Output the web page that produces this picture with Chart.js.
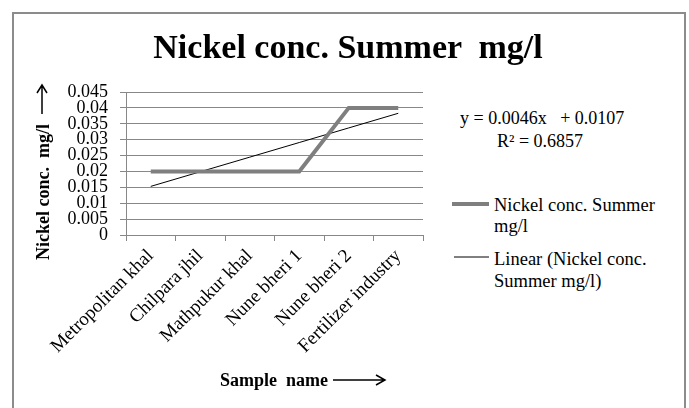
<!DOCTYPE html>
<html>
<head>
<meta charset="utf-8">
<title>Nickel conc. Summer mg/l</title>
<script src="https://cdn.jsdelivr.net/npm/chart.js@4.4.1/dist/chart.umd.min.js"></script>
<style>
    body { margin: 0; background: #fff; font-family: "Liberation Serif", "Times New Roman", serif; color: #000; }
    #frame { position: absolute; left: 12px; top: 12px; width: 670px; height: 400px; border: 2px solid #8c8c8c; border-bottom: none; }
    #wrap { position: absolute; left: 0; top: 0; width: 440px; height: 408px; }
    .txt { position: absolute; white-space: pre; line-height: 1; }
    #arrows { position: absolute; left: 0; top: 0; }
</style>
</head>
<body>
<div id="frame"></div>
<div id="wrap"><canvas id="nickelChart"></canvas></div>

<div class="txt" id="chart-title" style="left:348px; top:30px; transform:translateX(-50%); font-size:34px; font-weight:bold;">Nickel conc. Summer  mg/l</div>
<div class="txt" id="y-title" style="left:43px; top:192px; transform:translate(-50%,-50%) rotate(-90deg); font-size:18px; font-weight:bold;">Nickel conc.  mg/l</div>
<div class="txt" id="x-title" style="left:220px; top:371px; font-size:18px; font-weight:bold;">Sample  name</div>

<div class="txt" style="left:460px; top:109px; font-size:18px;">y = 0.0046x   + 0.0107</div>
<div class="txt" style="left:497px; top:132px; font-size:18px;">R² = 0.6857</div>

<div class="txt" style="left:494px; top:195px; font-size:18.5px; line-height:21px;">Nickel conc. Summer
mg/l</div>
<div class="txt" style="left:494px; top:248px; font-size:18.5px; line-height:22px;">Linear (Nickel conc.
Summer mg/l)</div>

<svg id="arrows" width="689" height="408">
    <g stroke="#000" stroke-width="1.5" fill="none">
        <path d="M42 114 L42 85 M37 93 L42 85 L47 93"/>
        <path d="M333 380 L385 380 M376 375 L385 380 L376 385"/>
    </g>
    <line x1="452" y1="204" x2="489" y2="204" stroke="#7f7f7f" stroke-width="4"/>
    <line x1="454" y1="257" x2="489" y2="257" stroke="#000" stroke-width="1"/>
</svg>

<script>
const sampleNames = ['Metropolitan khal', 'Chilpara jhil', 'Mathpukur khal', 'Nune bheri 1', 'Nune bheri 2', 'Fertilizer industry'];
const nickelSummer = [0.02, 0.02, 0.02, 0.02, 0.04, 0.04];
// linear trendline values as drawn (y = 0.0046x + 0.0107)
const nickelTrend = [0.0153, 0.0199, 0.0245, 0.0291, 0.0337, 0.0383];
const yMax = 0.045;
const yStep = 0.005;

function initChart() {
    const ctx = document.getElementById('nickelChart').getContext('2d');
    new Chart(ctx, {
        type: 'line',
        data: {
            labels: sampleNames,
            datasets: [{
                label: 'Nickel conc. Summer mg/l',
                data: nickelSummer,
                borderColor: '#7f7f7f',
                borderWidth: 4,
                pointRadius: 0,
                tension: 0
            }, {
                label: 'Linear (Nickel conc. Summer mg/l)',
                data: nickelTrend,
                borderColor: '#000',
                borderWidth: 1,
                pointRadius: 0,
                tension: 0
            }]
        },
        options: {
            responsive: true,
            maintainAspectRatio: false,
            animation: false,
            layout: { padding: { top: 92, right: 17, left: 0, bottom: 0 } },
            plugins: {
                legend: { display: false },
                tooltip: { enabled: false },
                title: { display: false }
            },
            scales: {
                x: {
                    offset: true,
                    grid: { display: true, drawOnChartArea: false, drawTicks: true, tickLength: 6, color: '#888', offset: true },
                    border: { color: '#888' },
                    ticks: {
                        autoSkip: false,
                        minRotation: 45,
                        maxRotation: 45,
                        padding: 4,
                        color: '#000',
                        font: { family: 'Liberation Serif', size: 19 }
                    },
                    afterFit: scale => { scale.height = 173; }
                },
                y: {
                    min: 0,
                    max: yMax,
                    grid: { color: '#888', tickLength: 6 },
                    border: { color: '#888' },
                    ticks: {
                        autoSkip: false,
                        stepSize: yStep,
                        padding: 12,
                        color: '#000',
                        font: { family: 'Liberation Serif', size: 18, lineHeight: 0.9 },
                        callback: v => String(+v.toFixed(3))
                    },
                    afterFit: scale => { scale.width = 126; }
                }
            }
        }
    });
}

document.addEventListener('DOMContentLoaded', initChart);
</script>
</body>
</html>
